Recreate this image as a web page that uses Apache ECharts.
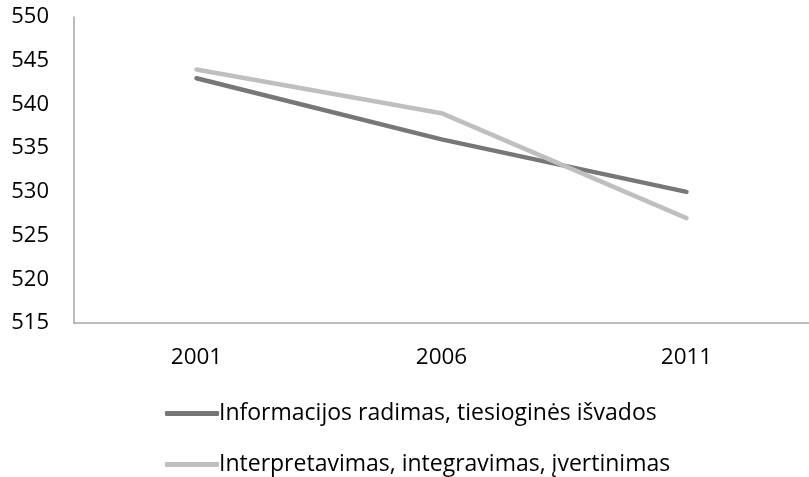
<!DOCTYPE html>
<html><head><meta charset="utf-8">
<script src="https://cdn.jsdelivr.net/npm/echarts@6/dist/echarts.min.js"></script>
<style>html,body{margin:0;padding:0;background:#fff}#c{width:809px;height:477px}</style>
</head><body><div id="c"></div>
<script>
const categories = ['2001', '2006', '2011'];
const seriesNames = ['Informacijos radimas, tiesioginės išvados', 'Interpretavimas, integravimas, įvertinimas'];
const series1 = [543, 536, 530];
const series2 = [544, 539, 527];
const yMin = 515, yMax = 550, yStep = 5;

const font = '"Open Sans", Lato, sans-serif';
const chart = echarts.init(document.getElementById('c'), null, {renderer: 'canvas'});
chart.setOption({
  animation: false,
  grid: {left: 74, top: 17, width: 749, height: 306, containLabel: false},
  xAxis: {
    type: 'category', data: categories, boundaryGap: true,
    axisLine: {lineStyle: {color: '#a6a6a6', width: 1.5}},
    axisTick: {show: false},
    axisLabel: {color: '#000', fontSize: 22.5, fontFamily: font, margin: 23}
  },
  yAxis: {
    type: 'value', min: yMin, max: yMax, interval: yStep,
    axisLine: {show: true, lineStyle: {color: '#a6a6a6', width: 1.5}},
    axisTick: {show: false},
    splitLine: {show: false},
    axisLabel: {color: '#000', fontSize: 22, fontFamily: font, margin: 25}
  },
  legend: {
    orient: 'vertical', left: 165, top: 402, height: 75, padding: 0, itemGap: 28,
    itemWidth: 54, itemHeight: 5, icon: 'roundRect',
    textStyle: {color: '#000', fontSize: 23, fontFamily: font, padding: [0,0,0,-5]},
    data: seriesNames
  },
  series: [
    {name: seriesNames[0], type: 'line', data: series1, symbol: 'none',
     lineStyle: {color: '#777777', width: 4.5, cap: 'round'}, itemStyle: {color: '#777777'}},
    {name: seriesNames[1], type: 'line', data: series2, symbol: 'none',
     lineStyle: {color: '#bfbfbf', width: 4.5, cap: 'round'}, itemStyle: {color: '#bfbfbf'}}
  ]
});
</script></body></html>
